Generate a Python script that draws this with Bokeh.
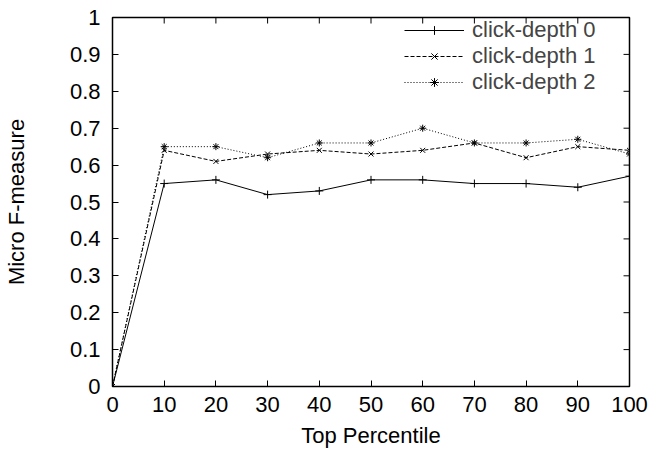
from bokeh.plotting import figure
from bokeh.models import FixedTicker, CustomJSTickFormatter, Range1d, Legend, LegendItem
from bokeh.embed import file_html
from bokeh.resources import INLINE

x = [0, 10, 20, 30, 40, 50, 60, 70, 80, 90, 100]
depth0 = [0, 0.55, 0.56, 0.52, 0.53, 0.56, 0.56, 0.55, 0.55, 0.54, 0.57]
depth1 = [0, 0.64, 0.61, 0.63, 0.64, 0.63, 0.64, 0.66, 0.62, 0.65, 0.64]
depth2 = [0, 0.65, 0.65, 0.62, 0.66, 0.66, 0.70, 0.66, 0.66, 0.67, 0.63]
x_ticks = [0, 10, 20, 30, 40, 50, 60, 70, 80, 90, 100]
y_ticks = [0, 0.1, 0.2, 0.3, 0.4, 0.5, 0.6, 0.7, 0.8, 0.9, 1.0]

FONT = "Liberation Sans"
FS = "22px"

W, H = 651, 453
LEFT, RIGHT, TOP, BOTTOM = 109, 22, 17, 67
FRAME_W = W - LEFT - RIGHT
FRAME_H = H - TOP - BOTTOM
TICK = 6

p = figure(width=W, height=H, output_backend="svg", toolbar_location=None,
           x_range=Range1d(0, 100), y_range=Range1d(0, 1),
           min_border_left=LEFT, min_border_right=RIGHT,
           min_border_top=TOP, min_border_bottom=BOTTOM)
p.xgrid.visible = False
p.ygrid.visible = False
p.outline_line_color = "black"
p.outline_line_width = 1.5
p.background_fill_color = "white"
p.border_fill_color = "white"

fmt = CustomJSTickFormatter(code="return String(Number(tick.toFixed(2)));")

for ax in (p.xaxis[0], p.yaxis[0]):
    ax.axis_line_color = "black"
    ax.axis_line_width = 1
    ax.major_tick_in = TICK
    ax.major_tick_out = 0
    ax.minor_tick_line_color = None
    ax.major_tick_line_color = "black"
    ax.major_label_text_font = FONT
    ax.major_label_text_font_size = FS
    ax.major_label_text_color = "black"
    ax.axis_label_text_font = FONT
    ax.axis_label_text_font_size = FS
    ax.axis_label_text_font_style = "normal"
    ax.axis_label_text_color = "black"
    ax.formatter = fmt

p.xaxis.ticker = FixedTicker(ticks=x_ticks)
p.yaxis.ticker = FixedTicker(ticks=y_ticks)
p.xaxis.axis_label = "Top Percentile"
p.yaxis.axis_label = "Micro F-measure"
p.xaxis.major_label_standoff = 10
p.yaxis.major_label_standoff = 12
p.xaxis.axis_label_standoff = 8
p.yaxis.axis_label_standoff = 38

# inward ticks on the top and right border (gnuplot style)
dy = TICK / FRAME_H * 1.0
dx = TICK / FRAME_W * 100.0
p.segment(x0=x_ticks, y0=[1.0] * len(x_ticks), x1=x_ticks, y1=[1.0 - dy] * len(x_ticks),
          line_color="black", line_width=1)
p.segment(x0=[100.0] * len(y_ticks), y0=y_ticks, x1=[100.0 - dx] * len(y_ticks), y1=y_ticks,
          line_color="black", line_width=1)

l0 = p.line(x, depth0, line_color="black", line_width=1)
m0 = p.scatter(x, depth0, marker="cross", size=8, line_color="black", line_width=1)
l1 = p.line(x, depth1, line_color="black", line_width=1, line_dash="4 2")
m1 = p.scatter(x, depth1, marker="x", size=7, line_color="black", line_width=1)
l2 = p.line(x, depth2, line_color="black", line_width=1, line_dash="1 2")
m2 = p.scatter(x, depth2, marker="asterisk", size=7, line_color="black", line_width=1)

legend = Legend(items=[
    LegendItem(label="click-depth 0", renderers=[l0, m0]),
    LegendItem(label="click-depth 1", renderers=[l1, m1]),
    LegendItem(label="click-depth 2", renderers=[l2, m2]),
], location=(292, 291))
legend.background_fill_alpha = 0
legend.border_line_color = None
legend.label_text_font = FONT
legend.label_text_font_size = FS
legend.label_height = 22
legend.glyph_height = 22
legend.glyph_width = 60
legend.spacing = 0
legend.padding = 0
legend.margin = 0
legend.label_standoff = 8
p.add_layout(legend)

open("out.html", "w").write(file_html(p, INLINE))
